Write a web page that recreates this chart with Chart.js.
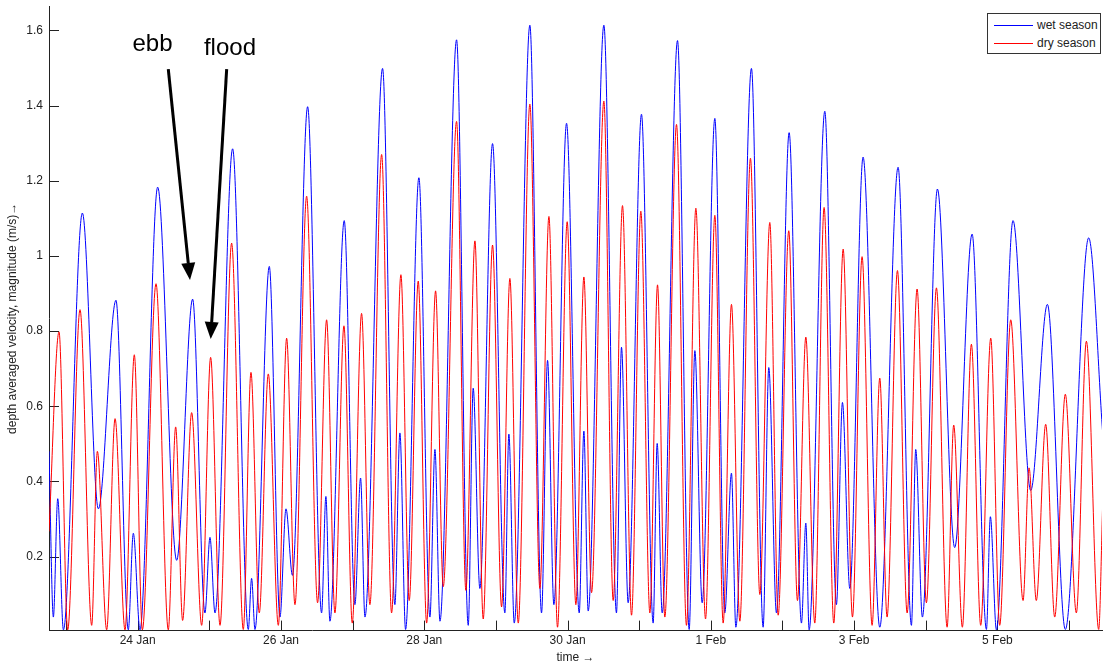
<!DOCTYPE html>
<html>
<head>
<meta charset="utf-8">
<script src="https://cdn.jsdelivr.net/npm/chart.js@4.4.1/dist/chart.umd.min.js"></script>
<style>
  body { margin: 0; background: #fff; }
  #wrap { position: relative; width: 1103px; height: 666px; }
  #legend { position: absolute; left: 987px; top: 13px; width: 112px; height: 39px;
    border: 1px solid #333; background: #fff; font: 12px "Liberation Sans", Arial, sans-serif; color: #222; }
  #legend div { position: absolute; left: 6px; height: 14px; line-height: 14px; }
  #legend span.ln { display: inline-block; width: 39px; height: 0; border-top: 1px solid; vertical-align: middle; margin-right: 4px; }
</style>
</head>
<body>
<div id="wrap">
  <canvas id="chart" width="1103" height="666"></canvas>
  <div id="legend">
    <div style="top:4px"><span class="ln" style="border-color:#0000ff"></span>wet season</div>
    <div style="top:22px"><span class="ln" style="border-color:#ff0000"></span>dry season</div>
  </div>
</div>
<script>
// time in days (24 = 24 Jan, 32 = 1 Feb), velocity magnitude in m/s
let wetDays = [22.762, 22.823, 22.884, 22.963, 23.228, 23.451, 23.697, 23.869, 23.939, 24.032,
  24.279, 24.544, 24.767, 24.939, 25.009, 25.079, 25.325, 25.544, 25.590, 25.637,
  25.837, 25.986, 26.070, 26.160, 26.372, 26.567, 26.627, 26.683, 26.883, 27.032,
  27.111, 27.172, 27.418, 27.590, 27.660, 27.739, 27.925, 28.079, 28.149, 28.219,
  28.451, 28.614, 28.683, 28.776, 28.953, 29.125, 29.181, 29.256, 29.474, 29.637,
  29.721, 29.809, 29.986, 30.163, 30.228, 30.288, 30.507, 30.683, 30.753, 30.846,
  31.032, 31.195, 31.251, 31.321, 31.535, 31.698, 31.777, 31.879, 32.056, 32.195,
  32.288, 32.349, 32.567, 32.730, 32.809, 32.916, 33.093, 33.265, 33.326, 33.372,
  33.591, 33.753, 33.837, 33.940, 34.125, 34.358, 34.614, 34.800, 34.860, 34.953,
  35.163, 35.404, 35.647, 35.847, 35.902, 35.986, 36.218, 36.465, 36.698, 36.948,
  37.274, 37.469];
let wetVel = [0.48, 0.039, 0.354, 0.005, 1.114, 0.327, 0.882, 0.005, 0.262, 0.005,
  1.183, 0.19, 0.885, 0.05, 0.251, 0.05, 1.285, 0.006, 0.142, 0.006,
  0.972, 0.039, 0.327, 0.15, 1.397, 0.05, 0.360, 0.028, 1.094, 0.072,
  0.409, 0.039, 1.499, 0.072, 0.529, 0.006, 1.208, 0.039, 0.485, 0.028,
  1.575, 0.017, 0.648, 0.115, 1.299, 0.05, 0.526, 0.023, 1.614, 0.05,
  0.722, 0.072, 1.353, 0.05, 0.534, 0.055, 1.614, 0.05, 0.757, 0.077,
  1.377, 0.023, 0.501, 0.05, 1.573, 0.006, 0.748, 0.077, 1.366, 0.05,
  0.422, 0.012, 1.499, 0.012, 0.703, 0.05, 1.328, 0.023, 0.289, 0.005,
  1.385, 0.072, 0.610, 0.115, 1.263, 0.012, 1.236, 0.017, 0.485, 0.039,
  1.178, 0.224, 1.058, 0.006, 0.306, 0.005, 1.094, 0.376, 0.871, 0.006,
  1.048, 0.53];

let dryDays = [22.762, 22.902, 23.023, 23.195, 23.358, 23.437, 23.567, 23.684, 23.823, 23.953,
  24.065, 24.256, 24.427, 24.530, 24.627, 24.753, 24.893, 25.018, 25.149, 25.311,
  25.474, 25.581, 25.697, 25.823, 25.963, 26.079, 26.195, 26.358, 26.511, 26.637,
  26.753, 26.879, 26.995, 27.125, 27.241, 27.405, 27.544, 27.674, 27.790, 27.916,
  28.033, 28.158, 28.265, 28.451, 28.581, 28.707, 28.823, 28.953, 29.079, 29.195,
  29.312, 29.474, 29.614, 29.740, 29.860, 29.995, 30.116, 30.228, 30.335, 30.507,
  30.637, 30.767, 30.893, 31.023, 31.149, 31.256, 31.358, 31.521, 31.660, 31.791,
  31.926, 32.056, 32.172, 32.288, 32.405, 32.553, 32.684, 32.823, 32.940, 33.088,
  33.209, 33.326, 33.451, 33.581, 33.716, 33.847, 33.977, 34.111, 34.251, 34.358,
  34.460, 34.605, 34.740, 34.879, 35.009, 35.149, 35.298, 35.390, 35.511, 35.637,
  35.767, 35.907, 36.032, 36.186, 36.358, 36.442, 36.543, 36.674, 36.800, 36.948,
  37.102, 37.242, 37.414, 37.470];
let dryVel = [0.267, 0.798, 0.005, 0.857, 0.017, 0.48, 0.005, 0.567, 0.005, 0.737,
  0.005, 0.926, 0.005, 0.545, 0.03, 0.583, 0.017, 0.730, 0.017, 1.034,
  0.006, 0.690, 0.05, 0.686, 0.017, 0.781, 0.072, 1.159, 0.077, 0.830,
  0.05, 0.814, 0.023, 0.847, 0.072, 1.270, 0.05, 0.950, 0.083, 0.933,
  0.023, 0.907, 0.12, 1.358, 0.110, 1.040, 0.034, 1.029, 0.066, 0.940,
  0.023, 1.404, 0.115, 1.105, 0.012, 1.091, 0.072, 0.944, 0.104, 1.412,
  0.083, 1.134, 0.044, 1.119, 0.05, 0.923, 0.039, 1.350, 0.017, 1.127,
  0.034, 1.108, 0.023, 0.871, 0.028, 1.260, 0.099, 1.089, 0.044, 1.067,
  0.083, 0.784, 0.023, 1.129, 0.023, 1.018, 0.039, 0.998, 0.017, 0.675,
  0.039, 0.961, 0.05, 0.912, 0.077, 0.915, 0.012, 0.550, 0.012, 0.765,
  0.017, 0.781, 0.017, 0.830, 0.083, 0.436, 0.083, 0.552, 0.039, 0.632,
  0.05, 0.773, 0.006, 0.344];

let xLabelDays = [24, 26, 28, 30, 32, 34, 36];
let xLabels = ["24 Jan", "26 Jan", "28 Jan", "30 Jan", "1 Feb", "3 Feb", "5 Feb"];
let xTickDays = [23, 24, 25, 26, 27, 28, 29, 30, 31, 32, 33, 34, 35, 36, 37];
let yTicks = [0.2, 0.4, 0.6, 0.8, 1, 1.2, 1.4, 1.6];

// annotations: text position and arrow tail/tip, in data units
let noteText = ["ebb", "flood"];
let noteAt = [[24.207, 1.546], [25.288, 1.535]];
let arrowFrom = [[24.427, 1.497], [25.242, 1.497]];
let arrowTo = [[24.730, 0.936], [25.019, 0.779]];

const FONT = "'Liberation Sans', Arial, sans-serif";
const axisColor = "#222";

function points(days, vals) {
  return days.map((d, i) => ({ x: d, y: vals[i] }));
}

function noPad(s) {
  s.paddingTop = 0;
  s.paddingBottom = 0;
  s.paddingLeft = 0;
  s.paddingRight = 0;
}

const insideTicks = {
  id: "insideTicks",
  beforeDatasetsDraw(chart) {
    const { ctx, chartArea: a, scales: { x, y } } = chart;
    ctx.save();
    ctx.strokeStyle = axisColor;
    ctx.lineWidth = 1;
    ctx.beginPath();
    xTickDays.forEach(d => {
      const px = Math.round(x.getPixelForValue(d)) + 0.5;
      ctx.moveTo(px, a.bottom);
      ctx.lineTo(px, a.bottom - 10);
    });
    yTicks.forEach(v => {
      const py = Math.round(y.getPixelForValue(v)) + 0.5;
      ctx.moveTo(a.left, py);
      ctx.lineTo(a.left + 10, py);
    });
    ctx.stroke();
    ctx.restore();
  }
};

const notes = {
  id: "notes",
  afterDatasetsDraw(chart) {
    const { ctx, scales: { x, y } } = chart;
    ctx.save();
    ctx.fillStyle = "#000";
    ctx.strokeStyle = "#000";
    ctx.font = "24px " + FONT;
    ctx.textAlign = "center";
    ctx.textBaseline = "alphabetic";
    noteText.forEach((t, i) => {
      ctx.fillText(t, x.getPixelForValue(noteAt[i][0]), y.getPixelForValue(noteAt[i][1]));
    });
    arrowFrom.forEach((f, i) => {
      const x0 = x.getPixelForValue(f[0]), y0 = y.getPixelForValue(f[1]);
      const x1 = x.getPixelForValue(arrowTo[i][0]), y1 = y.getPixelForValue(arrowTo[i][1]);
      const ang = Math.atan2(y1 - y0, x1 - x0);
      const headLen = 17, headHalf = 7;
      const bx = x1 - headLen * Math.cos(ang), by = y1 - headLen * Math.sin(ang);
      ctx.lineWidth = 3;
      ctx.beginPath();
      ctx.moveTo(x0, y0);
      ctx.lineTo(bx, by);
      ctx.stroke();
      ctx.beginPath();
      ctx.moveTo(x1, y1);
      ctx.lineTo(bx + headHalf * Math.sin(ang), by - headHalf * Math.cos(ang));
      ctx.lineTo(bx - headHalf * Math.sin(ang), by + headHalf * Math.cos(ang));
      ctx.closePath();
      ctx.fill();
    });
    ctx.restore();
  }
};

const ctx = document.getElementById("chart").getContext("2d");
const chart = new Chart(ctx, {
  type: "line",
  data: {
    datasets: [{
      label: "wet season",
      data: points(wetDays, wetVel),
      borderColor: "#0000ff",
      order: 1
    }, {
      label: "dry season",
      data: points(dryDays, dryVel),
      borderColor: "#ff0000",
      order: 0
    }]
  },
  options: {
    responsive: false,
    animation: false,
    layout: { padding: { top: 6, right: 1, left: 0, bottom: 0 } },
    elements: {
      point: { radius: 0 },
      line: { borderWidth: 1, fill: false, cubicInterpolationMode: "monotone" }
    },
    plugins: { legend: { display: false }, tooltip: { enabled: false } },
    scales: {
      x: {
        type: "linear",
        min: 22.762,
        max: 37.46,
        afterFit: s => { s.height = 35.4; noPad(s); },
        afterBuildTicks: s => { s.ticks = xLabelDays.map(v => ({ value: v })); },
        ticks: {
          callback: v => xLabels[xLabelDays.indexOf(v)],
          font: { family: FONT, size: 12 },
          color: axisColor,
          padding: 3,
          maxRotation: 0,
          autoSkip: false
        },
        grid: { display: true, drawOnChartArea: false, drawTicks: false },
        border: { display: true, color: axisColor, width: 1 },
        title: {
          display: true,
          text: "time \u2192",
          font: { family: FONT, size: 12 },
          color: axisColor,
          padding: { top: 0, bottom: 1 }
        }
      },
      y: {
        min: 0.003,
        max: 1.665,
        afterFit: s => { s.width = 49; noPad(s); },
        afterBuildTicks: s => { s.ticks = yTicks.map(v => ({ value: v })); },
        ticks: {
          callback: v => String(v),
          font: { family: FONT, size: 12 },
          color: axisColor,
          padding: 6
        },
        grid: { display: true, drawOnChartArea: false, drawTicks: false },
        border: { display: true, color: axisColor, width: 1 },
        title: {
          display: true,
          text: "depth averaged velocity, magnitude (m/s)\u2192",
          font: { family: FONT, size: 12 },
          color: axisColor,
          padding: { top: 5, bottom: 0 }
        }
      }
    }
  },
  plugins: [insideTicks, notes]
});
</script>
</body>
</html>
